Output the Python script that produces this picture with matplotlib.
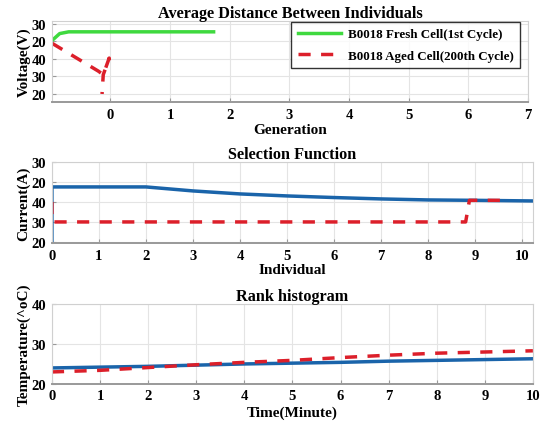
import numpy as np
import matplotlib
matplotlib.use('Agg')
from matplotlib import pyplot as plt
from matplotlib.ticker import FixedLocator, FixedFormatter

plt.rcParams['font.family'] = ['Liberation Serif', 'DejaVu Serif']
plt.rcParams['font.weight'] = 'bold'

# top panel (y in tick-index units, labels are the overlapped ones)
gen_fresh_x = [-0.98, -0.85, -0.7, 1.73]
gen_fresh_y = [3.05, 3.45, 3.55, 3.55]
gen_aged_x = [-0.98, -0.2, -0.12, -0.02, -0.12, -0.14]
gen_aged_y = [2.9, 1.3, 1.1, 2.05, 1.1, 0.0]
top_yticks = [0, 1, 2, 3, 4]
top_ylabels = ['20', '30', '40', '20', '30']

# middle panel
ind_fresh_x = [0, 0, 2, 3, 4, 5, 6, 7, 8, 9, 10.2]
ind_fresh_y = [-0.05, 2.75, 2.75, 2.55, 2.4, 2.3, 2.22, 2.15, 2.1, 2.08, 2.05]
ind_aged_x = [0, 0, 8.8, 8.88, 9.6]
ind_aged_y = [2.0, 1.0, 1.0, 2.08, 2.08]
mid_yticks = [0, 1, 2, 3, 4]
mid_ylabels = ['20', '30', '40', '20', '30']

# bottom panel
time_min = [0, 1, 2, 3, 4, 5, 6, 7, 8, 9, 10]
temp_fresh = [24.0, 24.2, 24.4, 24.7, 25.0, 25.2, 25.4, 25.7, 25.9, 26.1, 26.3]
temp_aged = [23.0, 23.4, 24.1, 24.8, 25.4, 25.9, 26.6, 27.2, 27.7, 28.0, 28.3]

green = '#3fd93f'
red = '#dc1f2a'
blue = '#1a64aa'

fig = plt.figure(figsize=(5.41, 4.31), dpi=100)
ax1 = fig.add_axes([0.096, 0.761, 0.88, 0.188])
ax2 = fig.add_axes([0.096, 0.434, 0.889, 0.188])
ax3 = fig.add_axes([0.096, 0.107, 0.889, 0.185])

def style(ax):
    ax.grid(True, color='#e4e4e4', lw=0.8)
    for s in ['top', 'right', 'left']:
        ax.spines[s].set_color('#d0d0d0')
    ax.spines['bottom'].set_color('#999999')
    ax.spines['bottom'].set_linewidth(1.4)
    ax.tick_params(direction='in', length=3, color='#999999', labelsize=10.5, pad=4)
    for lab in ax.get_xticklabels() + ax.get_yticklabels():
        lab.set_fontweight('bold')

ax1.plot(gen_fresh_x, gen_fresh_y, color=green, lw=2.5, label='B0018 Fresh Cell(1st Cycle)')
ax1.plot(gen_aged_x, gen_aged_y, color=red, lw=2.5, ls=(0, (3.5, 3)), label='B0018 Aged Cell(200th Cycle)')
ax1.set_xlim(-0.98, 7)
ax1.set_ylim(-0.46, 4.17)
ax1.set_xticks(range(0, 8))
ax1.yaxis.set_major_locator(FixedLocator(top_yticks))
ax1.yaxis.set_major_formatter(FixedFormatter(top_ylabels))
ax1.set_title('Average Distance Between Individuals', fontsize=11.7, fontweight='bold', pad=2)
ax1.set_xlabel('Generation', fontsize=11, fontweight='bold', labelpad=2)
ax1.set_ylabel('Voltage(V)', fontsize=11, fontweight='bold', labelpad=1)
leg = ax1.legend(loc='upper right', bbox_to_anchor=(0.983, 0.99), fontsize=9.4,
                 frameon=True, fancybox=False, edgecolor='black', handlelength=3.3,
                 borderpad=0.5, labelspacing=0.7, handletextpad=0.5, borderaxespad=0)
leg.get_frame().set_linewidth(1.0)
for t in leg.get_texts():
    t.set_fontweight('bold')
style(ax1)

ax2.plot(ind_fresh_x, ind_fresh_y, color=blue, lw=2.5)
ax2.plot(ind_aged_x, ind_aged_y, color=red, lw=2.5, ls=(0, (3.5, 3)))
ax2.set_xlim(0, 10.23)
ax2.set_ylim(-0.05, 4)
ax2.set_xticks(range(0, 11))
ax2.yaxis.set_major_locator(FixedLocator(mid_yticks))
ax2.yaxis.set_major_formatter(FixedFormatter(mid_ylabels))
ax2.set_title('Selection Function', fontsize=11.7, fontweight='bold', pad=2)
ax2.set_xlabel('Individual', fontsize=11, fontweight='bold', labelpad=1)
ax2.set_ylabel('Current(A)', fontsize=11, fontweight='bold', labelpad=1)
style(ax2)

ax3.plot(time_min, temp_fresh, color=blue, lw=2.5)
ax3.plot(time_min, temp_aged, color=red, lw=2.5, ls=(0, (3.5, 3)))
ax3.set_xlim(0, 10)
ax3.set_ylim(20, 40)
ax3.set_xticks(range(0, 11))
ax3.set_yticks([20, 30, 40])
ax3.set_title('Rank histogram', fontsize=11.7, fontweight='bold', pad=2)
ax3.set_xlabel('Time(Minute)', fontsize=11, fontweight='bold', labelpad=2)
ax3.set_ylabel('Temperature(^oC)', fontsize=11, fontweight='bold', labelpad=1)
style(ax3)

fig.savefig('out.png', dpi=100)
